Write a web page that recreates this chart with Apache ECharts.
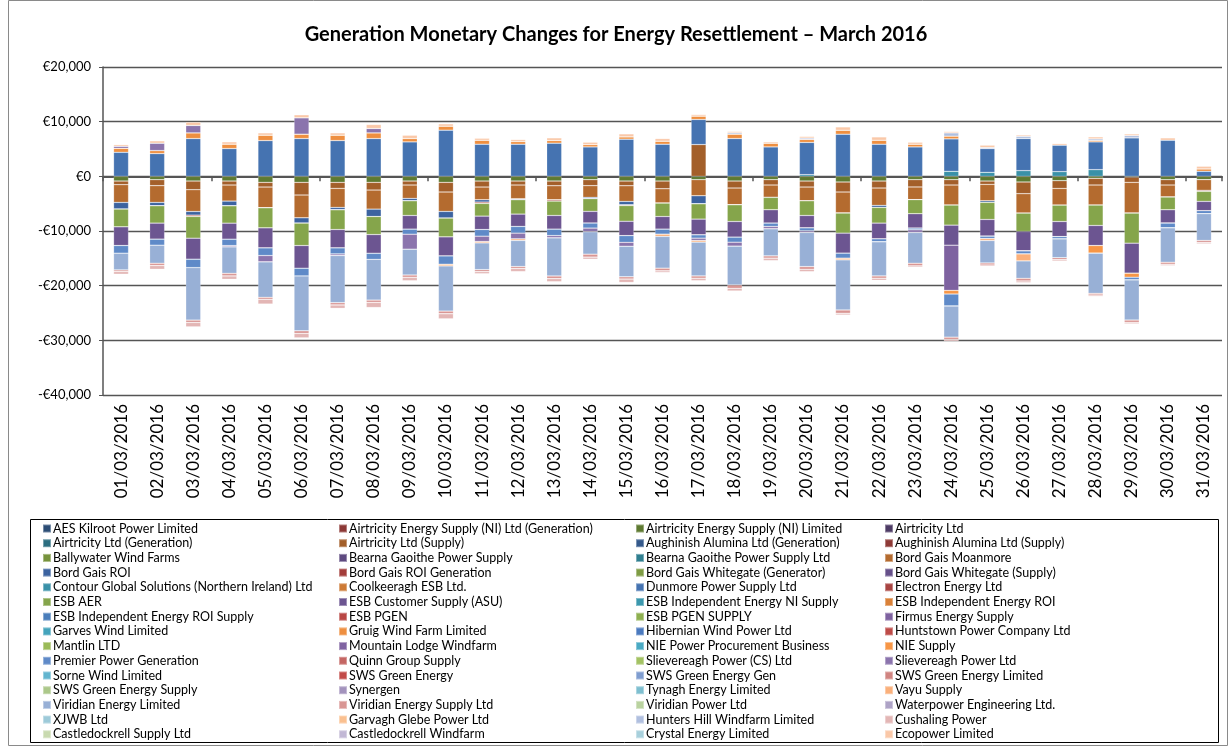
<!DOCTYPE html>
<html>
<head>
<meta charset="utf-8">
<script src="https://cdn.jsdelivr.net/npm/echarts@6/dist/echarts.min.js"></script>
<style>
  html, body { margin: 0; padding: 0; background: #fff; }
  #chart { width: 1232px; height: 749px; }
</style>
</head>
<body>
<div id="chart"></div>
<script>
const days = ['01/03/2016','02/03/2016','03/03/2016','04/03/2016','05/03/2016','06/03/2016','07/03/2016','08/03/2016',
  '09/03/2016','10/03/2016','11/03/2016','12/03/2016','13/03/2016','14/03/2016','15/03/2016','16/03/2016',
  '17/03/2016','18/03/2016','19/03/2016','20/03/2016','21/03/2016','22/03/2016','23/03/2016','24/03/2016',
  '25/03/2016','26/03/2016','27/03/2016','28/03/2016','29/03/2016','30/03/2016','31/03/2016'];

const yTicks = [-40000, -30000, -20000, -10000, 0, 10000, 20000];

// legend order (row by row, 4 columns)
const names = [
  'AES Kilroot Power Limited', 'Airtricity Energy Supply (NI) Ltd (Generation)', 'Airtricity Energy Supply (NI) Limited', 'Airtricity Ltd',
  'Airtricity Ltd (Generation)', 'Airtricity Ltd (Supply)', 'Aughinish Alumina Ltd (Generation)', 'Aughinish Alumina Ltd (Supply)',
  'Ballywater Wind Farms', 'Bearna Gaoithe Power Supply', 'Bearna Gaoithe Power Supply Ltd', 'Bord Gais Moanmore',
  'Bord Gais ROI', 'Bord Gais ROI Generation', 'Bord Gais Whitegate (Generator)', 'Bord Gais Whitegate (Supply)',
  'Contour Global Solutions (Northern Ireland) Ltd', 'Coolkeeragh ESB Ltd.', 'Dunmore Power Supply Ltd', 'Electron Energy Ltd',
  'ESB AER', 'ESB Customer Supply (ASU)', 'ESB Independent Energy NI Supply', 'ESB Independent Energy ROI',
  'ESB Independent Energy ROI Supply', 'ESB PGEN', 'ESB PGEN SUPPLY', 'Firmus Energy Supply',
  'Garves Wind Limited', 'Gruig Wind Farm Limited', 'Hibernian Wind Power Ltd', 'Huntstown Power Company Ltd',
  'Mantlin LTD', 'Mountain Lodge Windfarm', 'NIE Power Procurement Business', 'NIE Supply',
  'Premier Power Generation', 'Quinn Group Supply', 'Slievereagh Power (CS) Ltd', 'Slievereagh Power Ltd',
  'Sorne Wind Limited', 'SWS Green Energy', 'SWS Green Energy Gen', 'SWS Green Energy Limited',
  'SWS Green Energy Supply', 'Synergen', 'Tynagh Energy Limited', 'Vayu Supply',
  'Viridian Energy Limited', 'Viridian Energy Supply Ltd', 'Viridian Power Ltd', 'Waterpower Engineering Ltd.',
  'XJWB Ltd', 'Garvagh Glebe Power Ltd', 'Hunters Hill Windfarm Limited', 'Cushaling Power',
  'Castledockrell Supply Ltd', 'Castledockrell Windfarm', 'Crystal Energy Limited', 'Ecopower Limited'
];

const colors = [
  '#2C4D75', '#8C3836', '#5E7A31', '#4D3B65',
  '#2C6E80', '#A35F2A', '#34598B', '#8E3A37',
  '#77933C', '#5E4A80', '#307F90', '#B46B2F',
  '#3C63A0', '#A33D3A', '#7E9C44', '#66508A',
  '#3A91A8', '#CD7A35', '#4573B1', '#A84442',
  '#85A54B', '#6C5591', '#3C98AE', '#DA8138',
  '#4A7EBB', '#B94744', '#8EB050', '#7E62A0',
  '#44A4BC', '#EE8F40', '#4B7ABF', '#BE4B48',
  '#9BBB59', '#8064A2', '#4AAAC4', '#F79646',
  '#5F8AC8', '#C46663', '#A3C263', '#8B74AD',
  '#62B5CF', '#C24A48', '#7F9DD0', '#D08481',
  '#ACC88A', '#A393BD', '#7EBFD0', '#FAB07B',
  '#98B0D6', '#D99694', '#BAD3A0', '#AEA3C6',
  '#9DCAD9', '#FAC090', '#B0BFDF', '#E3B6B5',
  '#C9DAB0', '#C2B8D5', '#A8D0DC', '#FAC8A8'
];

// values (EUR) per day
const airtricityNiLimited = [-860,-610,-860,-860,-1100,-1100,-1100,-1100,-860,-1100,-860,-860,-860,-610,-860,-860,-610,-860,-610,-860,-1040,-860,-610,-610,-860,-1040,-800,-370,-150,-610,-610];
const airtricitySupply = [-670,-1100,-1590,-730,-860,-2320,-1100,-1410,-730,-1770,-1100,-730,-860,-1100,-860,-1410,5810,-1280,-980,-1100,-1830,-1280,-1340,-980,-610,-2140,-1410,-1220,-950,-980,0];
const bgMoanmore = [-3240,-3060,-3980,-2940,-3790,-4160,-3490,-3490,-2450,-3550,-2320,-2510,-2570,-2140,-2870,-2630,-2940,-3060,-2260,-2510,-3850,-3180,-2320,-3670,-3000,-3550,-3060,-3670,-5630,-2200,-1960];
const bgRoi = [-1220,-610,-670,-860,0,-980,-430,-1350,-430,-1220,-430,-180,0,-240,-610,0,-1470,0,0,0,0,-370,0,0,-300,0,0,0,0,0,0];
const bgRoiGen = [0,0,-240,0,0,0,0,0,0,0,-250,0,-240,0,-150,0,0,0,0,0,0,0,0,0,0,0,0,0,0,0,-180];
const contour = [0,0,0,0,0,0,0,0,0,0,0,0,0,0,0,0,0,0,0,300,0,0,0,920,730,1040,860,1220,0,0,0];
const dunmore = [4400,4160,6910,5080,6540,6910,6540,6910,6300,8440,5870,5870,6060,5380,6790,5870,4590,6910,5380,5900,7700,5870,5380,5930,4340,5870,4830,5080,7030,6600,920];
const esbAer = [-3240,-3180,-3980,-3180,-3670,-4100,-3610,-3300,-2690,-3430,-2320,-2630,-2630,-2320,-2870,-2450,-2810,-3060,-2260,-2690,-3670,-2870,-2570,-3670,-3120,-3360,-3000,-3730,-5500,-2320,-1830];
const esbCustomer = [-3430,-2940,-3850,-2940,-3670,-4160,-3360,-3430,-2510,-3490,-2450,-2260,-2510,-2140,-2630,-2320,-2870,-2870,-2450,-2260,-3670,-2870,-2630,-3670,-3060,-3550,-2750,-3670,-5500,-2450,-1710];
const firmus = [0,0,0,0,0,0,0,0,0,0,0,0,0,0,0,0,0,0,0,0,0,0,0,-8260,0,0,0,0,0,0,0];
const gruig = [730,550,1040,800,980,800,980,1040,610,730,730,490,490,430,430,550,610,800,670,550,730,730,490,490,0,0,0,250,0,0,430];
const nieSupply = [0,0,0,0,0,0,0,0,0,0,0,0,0,0,0,0,0,0,0,0,0,0,0,-670,0,0,0,-1410,-730,0,0];
const premier = [-1400,-1100,-1530,-1160,-1400,-1400,-1100,-1100,-920,-1530,-1220,-1220,-1160,-920,-1220,-920,-610,-920,-610,-550,-920,-550,-310,-2200,-430,-550,-430,0,-490,-860,-550];
const slievereagh = [370,1350,1350,-240,-1160,3000,-300,800,-2750,0,-980,-1040,-430,-670,-730,0,-430,-730,-430,-300,0,0,-490,0,0,0,0,0,0,0,0];
const vayu = [0,0,0,0,0,0,0,0,0,-300,-250,-300,0,0,0,-400,-300,0,0,0,-300,0,0,0,-370,-1280,0,0,0,0,0];
const viridianEnergy = [-3060,-3300,-9600,-4830,-6480,-10030,-8620,-7460,-4710,-8260,-4890,-4770,-6970,-4100,-5570,-5810,-6180,-7090,-4950,-6240,-9170,-6240,-5630,-5690,-4100,-3180,-3430,-7340,-7340,-6300,-4890];
const viridianSupply = [-300,-430,-430,-490,-370,-490,-430,-430,-430,-490,-370,-370,-490,-550,-430,-490,-430,-610,-430,-490,-610,-430,-490,-430,-370,-490,-370,-300,-430,-370,-370];
const huntersHill = [0,0,0,0,0,0,0,0,0,0,0,0,0,0,0,0,0,250,0,250,0,0,0,610,200,400,0,300,430,0,0];
const cushaling = [-490,-670,-800,-610,-860,-800,-610,-920,-610,-920,-370,-550,-550,-370,-610,-300,-430,-490,-430,-430,-300,-370,-240,-300,-240,-300,-240,-250,-250,-240,-240];
const ecopower = [300,430,610,430,430,550,430,730,610,430,370,370,490,430,550,490,300,250,250,300,610,610,370,250,430,250,300,370,300,430,490];

const dataByName = {
  'Airtricity Energy Supply (NI) Limited': airtricityNiLimited,
  'Airtricity Ltd (Supply)': airtricitySupply,
  'Bord Gais Moanmore': bgMoanmore,
  'Bord Gais ROI': bgRoi,
  'Bord Gais ROI Generation': bgRoiGen,
  'Contour Global Solutions (Northern Ireland) Ltd': contour,
  'Dunmore Power Supply Ltd': dunmore,
  'ESB AER': esbAer,
  'ESB Customer Supply (ASU)': esbCustomer,
  'Firmus Energy Supply': firmus,
  'Gruig Wind Farm Limited': gruig,
  'NIE Supply': nieSupply,
  'Premier Power Generation': premier,
  'Slievereagh Power Ltd': slievereagh,
  'Vayu Supply': vayu,
  'Viridian Energy Limited': viridianEnergy,
  'Viridian Energy Supply Ltd': viridianSupply,
  'Hunters Hill Windfarm Limited': huntersHill,
  'Cushaling Power': cushaling,
  'Ecopower Limited': ecopower
};

const FONT = 'Lato, "Open Sans", sans-serif';

function euro(v) {
  const s = Math.abs(v).toLocaleString('en-US');
  return v < 0 ? '-€' + s : '€' + s;
}

const series = names.map((name, i) => ({
  name: name,
  type: 'bar',
  stack: 'total',
  barWidth: 15,
  data: dataByName[name] || [],
  itemStyle: {
    color: colors[i],
    borderColor: 'rgba(255,255,255,0.35)',
    borderWidth: 0.6
  },
  emphasis: { disabled: true }
}));

const legendCols = [37, 333, 630, 879];
const legends = legendCols.map((x, c) => ({
  orient: 'vertical',
  left: x,
  top: 517,
  height: 240,
  icon: 'rect',
  itemWidth: 8,
  itemHeight: 8,
  itemGap: 1.7,
  selectedMode: false,
  textStyle: { fontFamily: FONT, fontSize: 12.5, color: '#000', lineHeight: 12, padding: [0, 0, 0, -3] },
  data: names.filter((n, i) => i % 4 === c)
}));

const chart = echarts.init(document.getElementById('chart'));
chart.setOption({
  animation: false,
  title: {
    text: 'Generation Monetary Changes for Energy Resettlement – March 2016',
    left: 'center',
    top: 20,
    textStyle: { fontFamily: FONT, fontSize: 20, fontWeight: 'bold', color: '#000' }
  },
  legend: legends,
  grid: { left: 103, right: 10, top: 67, bottom: 354, containLabel: false },
  xAxis: [
    {
      type: 'category',
      data: days,
      position: 'bottom',
      axisLine: { show: false, onZero: false },
      axisTick: { show: false },
      axisLabel: { rotate: 90, margin: 9, fontFamily: FONT, fontSize: 17, color: '#000' }
    },
    {
      type: 'category',
      data: days,
      position: 'bottom',
      axisLine: { onZero: true, lineStyle: { color: '#555', width: 2 } },
      axisTick: { show: true, length: 5, lineStyle: { color: '#555', width: 1.5 } },
      axisLabel: { show: false }
    }
  ],
  yAxis: {
    type: 'value',
    min: yTicks[0],
    max: yTicks[yTicks.length - 1],
    interval: 10000,
    axisLine: { show: true, lineStyle: { color: '#555', width: 1.5 } },
    axisTick: { show: true, length: 4, lineStyle: { color: '#555' } },
    splitLine: { lineStyle: { color: '#555', width: 1.3 } },
    axisLabel: { formatter: euro, fontFamily: FONT, fontSize: 13, color: '#000', margin: 12 }
  },
  graphic: [
    { type: 'rect', shape: { x: 8.5, y: 0.5, width: 1219, height: 745 }, style: { fill: 'none', stroke: '#8a8a8a', lineWidth: 1 }, silent: true },
    { type: 'rect', shape: { x: 30.5, y: 519.5, width: 1188, height: 223 }, style: { fill: 'none', stroke: '#000', lineWidth: 1 }, silent: true }
  ],
  series: series
});
</script>
</body>
</html>
